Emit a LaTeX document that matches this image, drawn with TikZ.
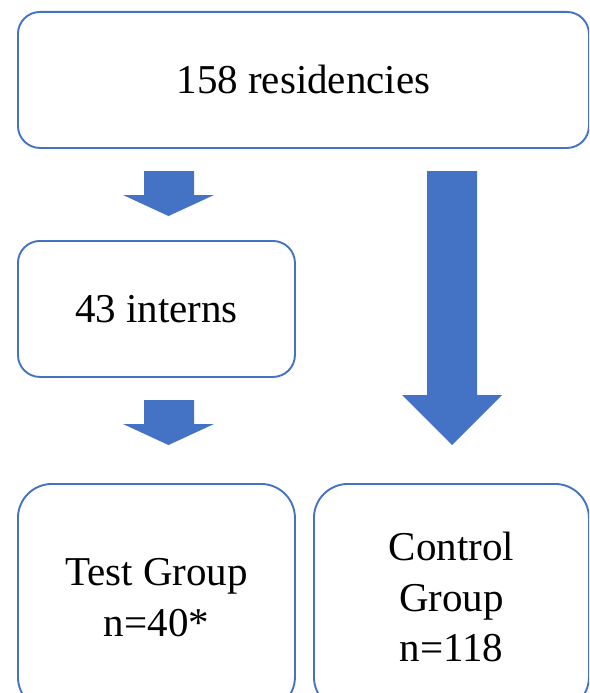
\documentclass[tikz,border=0pt]{standalone}
\usepackage{fontspec}
\setmainfont{Liberation Serif}
\definecolor{boxblue}{HTML}{4472C4}
\begin{document}
\begin{tikzpicture}[x=1pt,y=-1pt,
  box/.style={draw=boxblue, line width=1.9pt, rounded corners=22pt, rectangle,
    anchor=north west, inner sep=0pt, font=\fontsize{41}{50.5}\selectfont, align=center},
  bigbox/.style={box, rounded corners=34pt},
  blockarrow/.style={fill=boxblue, draw=none}]
\useasboundingbox (0,0) rectangle (589,693);
\clip (0,0) rectangle (589,693);
\node[box, minimum width=571pt, minimum height=136pt] (res) at (17,11) {158 residencies};
\node[box, minimum width=277pt, minimum height=136pt] (int) at (17,240) {43 interns};
\node[bigbox, minimum width=277pt, minimum height=227pt] (test) at (17,483) {Test Group\\n=40*};
\node[bigbox, minimum width=275pt, minimum height=227pt] (ctrl) at (313,483) {Control\\Group\\n=118};
% block arrows
\fill[blockarrow] (144,171) -- (194,171) -- (194,195) -- (214,195) -- (168.5,216) -- (123,195) -- (144,195) -- cycle;
\fill[blockarrow] (144,400) -- (194,400) -- (194,424) -- (214,424) -- (168.5,445) -- (123,424) -- (144,424) -- cycle;
\fill[blockarrow] (427,171) -- (477,171) -- (477,395) -- (502,395) -- (452,445) -- (402,395) -- (427,395) -- cycle;
\end{tikzpicture}
\end{document}
